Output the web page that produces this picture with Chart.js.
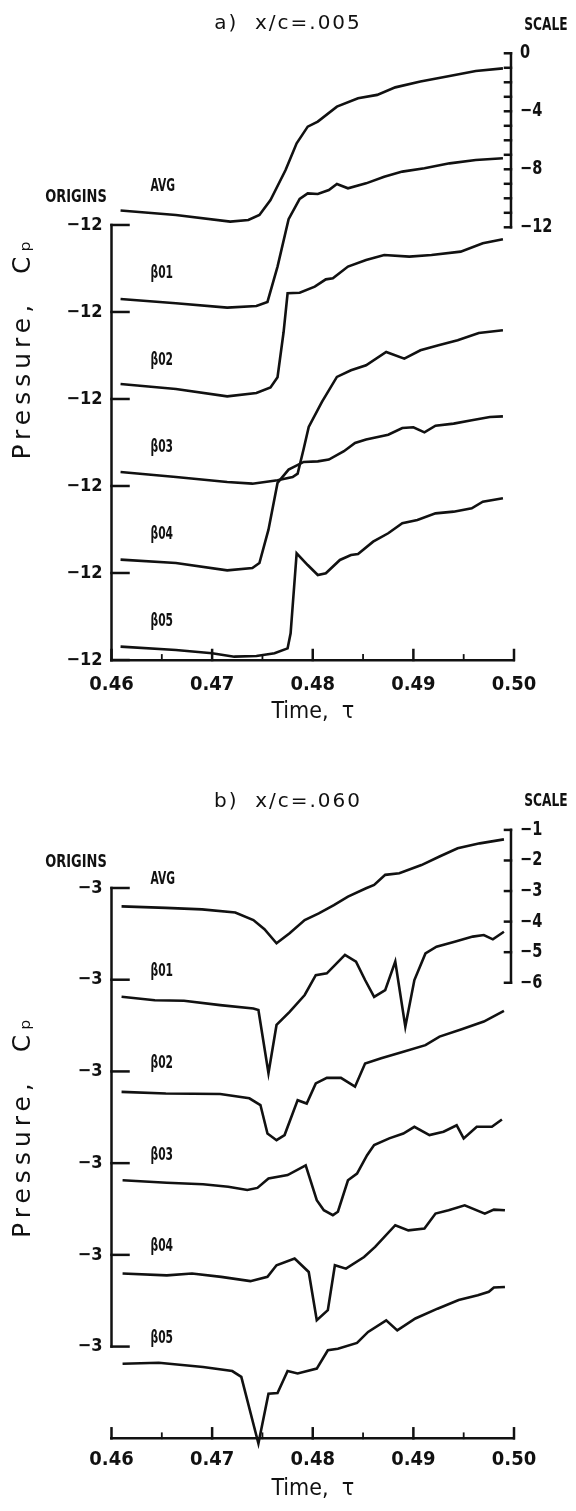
<!DOCTYPE html>
<html>
<head>
<meta charset="utf-8">
<script src="https://cdn.jsdelivr.net/npm/chart.js@4.4.1/dist/chart.umd.min.js"></script>
<style>
  body { margin: 0; background: #fff; }
  .panel { position: absolute; left: 0; width: 576px; }
  #panelA { top: 0; }
  #panelB { top: 760px; }
</style>
</head>
<body>
<div class="panel" id="panelA"><canvas id="chartA" width="576" height="730"></canvas></div>
<div class="panel" id="panelB"><canvas id="chartB" width="576" height="751"></canvas></div>
<script>
// ---- data (time tau, pressure coefficient Cp) ----
const traceNames = ['AVG', 'β01', 'β02', 'β03', 'β04', 'β05'];
const timeTicks = [0.46, 0.47, 0.48, 0.49, 0.50];
const timeMinorTicks = [0.465, 0.475, 0.485, 0.495];

// panel a, x/c = .005
const aAvgT  = [0.4609,0.4664,0.4718,0.4736,0.4747,0.4758,0.4773,0.4784,0.4795,0.4805,0.4824,0.4845,0.4864,0.4882,0.4907,0.4936,0.4962,0.4989];
const aAvgCp = [-11.0,-11.31,-11.77,-11.66,-11.31,-10.28,-8.21,-6.37,-5.22,-4.87,-3.84,-3.26,-3.03,-2.51,-2.11,-1.72,-1.38,-1.2];
const a01T   = [0.4609,0.4664,0.4715,0.4744,0.4755,0.4765,0.4776,0.4787,0.4795,0.4805,0.4816,0.4824,0.4835,0.4853,0.4871,0.4889,0.4911,0.4936,0.4962,0.4989];
const a01Cp  = [-11.1,-11.4,-11.7,-11.59,-11.31,-8.87,-5.6,-4.2,-3.82,-3.86,-3.59,-3.17,-3.47,-3.13,-2.67,-2.32,-2.09,-1.75,-1.52,-1.4];
const a02T   = [0.4609,0.4664,0.4715,0.4744,0.4758,0.4765,0.4771,0.4775,0.4787,0.4802,0.4813,0.482,0.4835,0.4853,0.4871,0.4896,0.4918,0.4947,0.4969,0.4989];
const a02Cp  = [-10.97,-11.31,-11.82,-11.59,-11.2,-10.5,-7.4,-4.71,-4.67,-4.25,-3.75,-3.68,-2.87,-2.41,-2.07,-2.18,-2.07,-1.84,-1.26,-0.99];
const a03T   = [0.4609,0.4664,0.4715,0.474,0.4765,0.478,0.4785,0.4791,0.4796,0.4809,0.4824,0.4838,0.4853,0.4873,0.4891,0.4907,0.4925,0.4944,0.4965,0.4989];
const a03Cp  = [-11.03,-11.38,-11.72,-11.84,-11.61,-11.38,-11.15,-9.43,-7.93,-6.21,-4.48,-4.02,-3.68,-2.76,-3.22,-2.64,-2.3,-1.95,-1.45,-1.26];
const a04T   = [0.4609,0.4664,0.4715,0.474,0.4747,0.4756,0.4765,0.4776,0.4791,0.4805,0.4816,0.4831,0.4842,0.4853,0.4875,0.4889,0.49,0.4911,0.4922,0.494,0.4958,0.4976,0.4989];
const a04Cp  = [-11.08,-11.31,-11.82,-11.66,-11.31,-9.01,-5.79,-4.87,-4.34,-4.3,-4.18,-3.6,-3.03,-2.8,-2.46,-2.0,-1.95,-2.3,-1.84,-1.7,-1.47,-1.24,-1.2];
const a05T   = [0.4609,0.4664,0.47,0.4722,0.4744,0.4762,0.4775,0.4778,0.4784,0.4795,0.4805,0.4813,0.4827,0.4838,0.4845,0.486,0.4875,0.4889,0.4904,0.4922,0.494,0.4958,0.4969,0.4989];
const a05Cp  = [-11.08,-11.31,-11.54,-11.77,-11.72,-11.54,-11.2,-10.16,-4.64,-5.45,-6.14,-6.02,-5.1,-4.76,-4.69,-3.84,-3.26,-2.57,-2.34,-1.89,-1.77,-1.54,-1.08,-0.85];

// panel b, x/c = .060
const bAvgT  = [0.461,0.4654,0.469,0.4723,0.4741,0.4752,0.4764,0.4777,0.4792,0.4806,0.4821,0.4835,0.4853,0.4861,0.4872,0.4886,0.4908,0.4926,0.4944,0.4966,0.499];
const bAvgCp = [-3.6,-3.65,-3.7,-3.8,-4.05,-4.35,-4.81,-4.48,-4.05,-3.83,-3.56,-3.28,-3.01,-2.9,-2.57,-2.52,-2.25,-1.97,-1.7,-1.54,-1.41];
const b01T   = [0.461,0.4643,0.4672,0.4708,0.4741,0.4746,0.4756,0.4764,0.4777,0.4792,0.4803,0.4814,0.4832,0.4843,0.4852,0.4861,0.4872,0.4882,0.4892,0.4901,0.4912,0.4923,0.4941,0.4959,0.497,0.4979,0.499];
const b01Cp  = [-3.56,-3.67,-3.69,-3.83,-3.94,-3.99,-6.06,-4.48,-4.05,-3.5,-2.85,-2.79,-2.19,-2.41,-3.01,-3.56,-3.34,-2.41,-4.54,-3.01,-2.14,-1.92,-1.76,-1.59,-1.54,-1.68,-1.43];
const b02T   = [0.461,0.4654,0.4708,0.4737,0.4748,0.4755,0.4764,0.4772,0.4785,0.4794,0.4803,0.4814,0.4828,0.4842,0.4852,0.4868,0.489,0.4912,0.4926,0.4948,0.497,0.499];
const b02Cp  = [-3.67,-3.72,-3.74,-3.88,-4.1,-5.03,-5.25,-5.08,-3.94,-4.05,-3.39,-3.21,-3.21,-3.5,-2.74,-2.57,-2.36,-2.14,-1.86,-1.62,-1.37,-1.02];
const b03T   = [0.4611,0.4655,0.4691,0.4716,0.4735,0.4745,0.4756,0.4775,0.4793,0.4804,0.4811,0.482,0.4825,0.4835,0.4844,0.4854,0.4861,0.4876,0.489,0.4901,0.4916,0.493,0.4943,0.495,0.4963,0.4978,0.4988];
const b03Cp  = [-3.56,-3.64,-3.69,-3.77,-3.88,-3.81,-3.5,-3.39,-3.07,-4.21,-4.54,-4.7,-4.59,-3.56,-3.34,-2.74,-2.41,-2.19,-2.03,-1.81,-2.08,-1.97,-1.76,-2.19,-1.81,-1.81,-1.57];
const b04T   = [0.4611,0.4655,0.468,0.4709,0.4738,0.4755,0.4764,0.4782,0.4796,0.4804,0.4815,0.4822,0.4833,0.4851,0.4862,0.4882,0.4895,0.4911,0.4922,0.4935,0.4951,0.4971,0.498,0.4991];
const b04Cp  = [-3.61,-3.67,-3.61,-3.72,-3.86,-3.72,-3.34,-3.12,-3.56,-5.14,-4.81,-3.34,-3.45,-3.07,-2.74,-2.03,-2.2,-2.14,-1.65,-1.54,-1.38,-1.65,-1.52,-1.54];
const b05T   = [0.4611,0.4647,0.4691,0.472,0.4729,0.4746,0.4756,0.4765,0.4775,0.4785,0.4804,0.4815,0.4825,0.4844,0.4855,0.4873,0.4884,0.4902,0.4924,0.4945,0.4964,0.4975,0.498,0.4991];
const b05Cp  = [-3.56,-3.53,-3.67,-3.8,-3.99,-6.17,-4.54,-4.52,-3.8,-3.88,-3.72,-3.12,-3.07,-2.88,-2.52,-2.14,-2.47,-2.08,-1.76,-1.48,-1.32,-1.21,-1.07,-1.05];

// origin value and spacing between stacked traces, scale-bar tick labels
const originCpA = -12, stepA = 6;
const originCpB = -3,  stepB = 3;
const scaleBarA = [0, -1, -2, -3, -4, -5, -6, -7, -8, -9, -10, -11, -12];
const scaleBarLabelsA = [0, -4, -8, -12];
const scaleBarB = [-1, -2, -3, -4, -5, -6];
const scaleBarLabelsB = [-1, -2, -3, -4, -5, -6];

const NARROW = "'Liberation Sans Narrow', 'DejaVu Sans Condensed', 'Arial Narrow', sans-serif";
const SANS = "'DejaVu Sans', 'Noto Sans', sans-serif";
const INK = '#111';

Chart.defaults.color = INK;

function fmtNum(v) {
    return v < 0 ? '\u2212' + Math.abs(v) : String(v);
}

function stackTraces(series, step) {
    return series.map(([t, cp], k) => ({
        label: traceNames[k],
        data: t.map((x, i) => ({ x: x, y: cp[i] - step * k })),
        borderColor: INK,
        borderWidth: 2.6,
        pointRadius: 0,
        tension: 0,
        fill: false,
        clip: false
    }));
}

// letter spacing for the title and the Cp axis title (Chart.js has no option for it)
function withSpacing(obj, key, spacing) {
    if (!obj || obj['_sp_' + key]) return;
    const orig = obj[key];
    obj[key] = function (...args) {
        const c = this.ctx;
        const prev = c.letterSpacing;
        c.letterSpacing = spacing;
        orig.apply(this, args);
        c.letterSpacing = prev;
    };
    obj['_sp_' + key] = true;
}

const spacedText = {
    id: 'spacedText',
    afterLayout(chart) {
        withSpacing(chart.titleBlock, 'draw', '2px');
        withSpacing(chart.scales.y, 'drawTitle', '5px');
    }
};

function squeezedText(ctx, text, x, y, align, squeeze) {
    ctx.save();
    ctx.translate(x, y);
    ctx.scale(squeeze, 1);
    ctx.textAlign = align;
    ctx.fillText(text, 0, 0);
    ctx.restore();
}

// inward axis ticks, stacked-origin axis, trace names and the SCALE bar
const panelDecor = {
    id: 'panelDecor',
    afterDraw(chart, args, o) {
        const { ctx } = chart;
        const xs = chart.scales.x, ys = chart.scales.y;
        const line = (x1, y1, x2, y2) => {
            ctx.beginPath(); ctx.moveTo(x1, y1); ctx.lineTo(x2, y2); ctx.stroke();
        };
        ctx.save();
        ctx.strokeStyle = INK;
        ctx.fillStyle = INK;
        ctx.lineWidth = 2.5;
        ctx.lineCap = 'square';

        // origins axis
        const ax = xs.getPixelForValue(timeTicks[0]);
        const oy = o.origins.map(v => ys.getPixelForValue(v));
        line(ax, oy[0], ax, oy[oy.length - 1]);
        oy.forEach(py => line(ax, py, ax + 17, py));

        // time axis ticks pointing up
        const by = chart.chartArea.bottom;
        timeTicks.forEach(v => { const px = xs.getPixelForValue(v); line(px, by, px, by - 10); });
        ctx.lineWidth = 1.8;
        timeMinorTicks.forEach(v => { const px = xs.getPixelForValue(v); line(px, by, px, by - 5); });
        ctx.lineWidth = 2.5;

        // labels
        ctx.textBaseline = 'middle';
        ctx.font = "bold 17px " + NARROW;
        squeezedText(ctx, 'ORIGINS', 76, oy[0] - o.originsLift, 'center', 0.85);
        oy.forEach((py, k) => squeezedText(ctx, traceNames[k], ax + 39, py - o.nameLift, 'left', 0.7));

        // scale bar
        const rx = xs.getPixelForValue(o.barTime);
        const ry = o.bar.map(v => ys.getPixelForValue(v + o.barShift));
        line(rx, ry[0], rx, ry[ry.length - 1]);
        ry.forEach(py => line(rx, py, rx - 6, py));
        ctx.font = "bold 19px " + NARROW;
        o.barLabels.forEach(v => squeezedText(ctx, fmtNum(v), rx + 9, ys.getPixelForValue(v + o.barShift), 'left', 0.85));
        ctx.font = "bold 17px " + NARROW;
        squeezedText(ctx, 'SCALE', rx + 35, ry[0] - 28, 'center', 0.8);
        ctx.restore();
    }
};

function makePanel(canvasId, p) {
    const origins = traceNames.map((n, k) => p.originCp - p.step * k);
    return new Chart(document.getElementById(canvasId), {
        type: 'line',
        data: { datasets: stackTraces(p.series, p.step) },
        plugins: [spacedText, panelDecor],
        options: {
            responsive: false,
            animation: false,
            events: [],
            layout: { padding: 0 },
            plugins: {
                legend: { display: false },
                tooltip: { enabled: false },
                title: {
                    display: true,
                    text: p.title,
                    color: INK,
                    font: { family: SANS, size: 20, weight: 'normal' },
                    padding: { top: p.titleTop, bottom: 0 }
                },
                panelDecor: {
                    origins: origins,
                    originsLift: p.originsLift,
                    nameLift: p.nameLift,
                    bar: p.bar,
                    barLabels: p.barLabels,
                    barShift: p.barShift,
                    barTime: 0.4997
                }
            },
            scales: {
                x: {
                    type: 'linear',
                    min: 0.46,
                    max: 0.50,
                    afterFit(s) { s.height = p.xHeight; },
                    afterBuildTicks(s) { s.ticks = timeTicks.map(v => ({ value: v })); },
                    ticks: {
                        autoSkip: false,
                        maxRotation: 0,
                        padding: p.xTickPad,
                        color: INK,
                        font: { family: NARROW, size: 20, weight: 'bold' },
                        callback: v => v.toFixed(2)
                    },
                    grid: { display: false, drawTicks: false },
                    border: { display: true, color: INK, width: 2.5 },
                    title: {
                        display: true,
                        text: 'Time,  τ',
                        color: INK,
                        font: { family: NARROW, size: 23 },
                        padding: { top: 0, bottom: p.xTitlePad }
                    }
                },
                y: {
                    type: 'linear',
                    min: p.yMin,
                    max: p.yMax,
                    afterFit(s) { s.width = 111.5; },
                    afterBuildTicks(s) { s.ticks = origins.map(v => ({ value: v })); },
                    ticks: {
                        autoSkip: false,
                        padding: 9,
                        color: INK,
                        font: { family: NARROW, size: 18, weight: 'bold' },
                        callback: () => fmtNum(p.originCp)
                    },
                    grid: { display: false, drawTicks: false },
                    border: { display: false },
                    title: {
                        display: true,
                        text: 'Pressure,  Cₚ',
                        color: INK,
                        font: { family: SANS, size: 25 },
                        padding: { top: 8, bottom: 0 }
                    }
                },
                // empty right-hand margin that holds the SCALE bar
                margin: {
                    type: 'linear',
                    position: 'right',
                    afterFit(s) { s.width = 62; },
                    ticks: { display: false },
                    grid: { display: false, drawTicks: false },
                    border: { display: false }
                }
            }
        }
    });
}

makePanel('chartA', {
    title: 'a)  x/c=.005',
    series: [[aAvgT, aAvgCp], [a01T, a01Cp], [a02T, a02Cp], [a03T, a03Cp], [a04T, a04Cp], [a05T, a05Cp]],
    originCp: originCpA, step: stepA,
    yMin: -42, yMax: 1.08,
    titleTop: 11.3,
    xHeight: 70, xTickPad: 13, xTitlePad: 3.9,
    originsLift: 27, nameLift: 38,
    bar: scaleBarA, barLabels: scaleBarLabelsA, barShift: -0.16
});

makePanel('chartB', {
    title: 'b)  x/c=.060',
    series: [[bAvgT, bAvgCp], [b01T, b01Cp], [b02T, b02Cp], [b03T, b03Cp], [b04T, b04Cp], [b05T, b05Cp]],
    originCp: originCpB, step: stepB,
    yMin: -21, yMax: -0.57,
    titleTop: 29.7,
    xHeight: 72.7, xTickPad: 9.5, xTitlePad: 8.6,
    originsLift: 25, nameLift: 8,
    bar: scaleBarB, barLabels: scaleBarLabelsB, barShift: -0.1
});
</script>
</body>
</html>
